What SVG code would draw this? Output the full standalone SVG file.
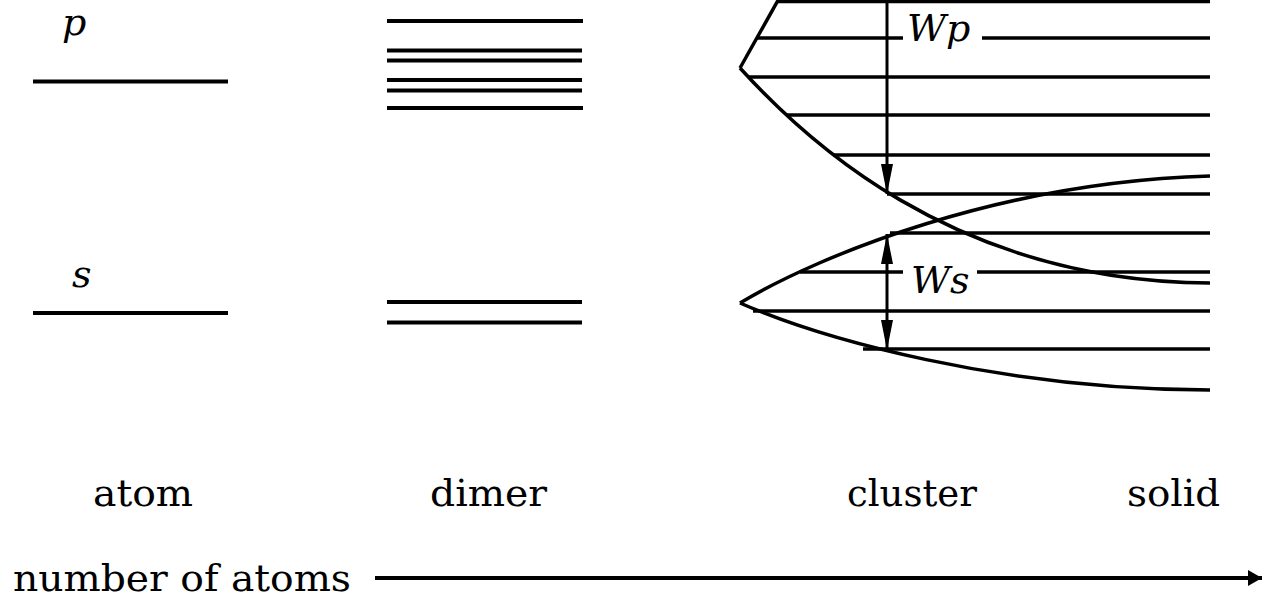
<svg xmlns="http://www.w3.org/2000/svg" width="1265" height="599" viewBox="0 0 1265 599">
<style>
.lv{stroke:#000;stroke-width:4;fill:none}
.cl{stroke:#000;stroke-width:3.5;fill:none}
.cv{stroke:#000;stroke-width:3.5;fill:none}
.lab{font-family:"DejaVu Serif",serif;font-size:37px;fill:#000}
.it{font-family:"DejaVu Serif",serif;font-style:italic;font-size:38px;fill:#000}
.ar{stroke:#000;stroke-width:3;fill:none}
</style>
<defs>
<marker id="head" markerUnits="userSpaceOnUse" markerWidth="30" markerHeight="14" refX="30" refY="7" orient="auto-start-reverse">
<path d="M0,1 L30,7 L0,13 z" fill="#000"/>
</marker>
<marker id="headSmall" markerUnits="userSpaceOnUse" markerWidth="14" markerHeight="16" refX="14" refY="8" orient="auto">
<path d="M0,0 L14,8 L0,16 z" fill="#000"/>
</marker>
</defs>
<rect width="1265" height="599" fill="#fff"/>
<g id="atom">
<text class="it" x="62" y="35">p</text>
<line class="lv" x1="33" y1="81.5" x2="228" y2="81.5"/>
<text class="it" x="72" y="287">s</text>
<line class="lv" x1="33" y1="313" x2="228" y2="313"/>
</g>
<g id="dimer">
<line class="lv" x1="387" y1="21" x2="583" y2="21"/>
<line class="lv" x1="387" y1="50.5" x2="582" y2="50.5"/>
<line class="lv" x1="387" y1="60.5" x2="582" y2="60.5"/>
<line class="lv" x1="387" y1="80" x2="582" y2="80"/>
<line class="lv" x1="387" y1="90.5" x2="582" y2="90.5"/>
<line class="lv" x1="387" y1="108" x2="583" y2="108"/>
<line class="lv" x1="387" y1="302" x2="582" y2="302"/>
<line class="lv" x1="387" y1="322.5" x2="582" y2="322.5"/>
</g>
<g id="cluster">
<path class="cv" d="M781,-5 L740,68"/>
<path class="cv" d="M740,68 C800,134 950,282 1210,283"/>
<path class="cv" d="M740,303 C820,255 1000,182 1210,176"/>
<path class="cv" d="M740,303 C820,338 1000,390 1210,390"/>
<line class="cl" x1="778" y1="1.5" x2="1210" y2="1.5"/>
<line class="cl" x1="757" y1="38" x2="903" y2="38"/>
<line class="cl" x1="982" y1="38" x2="1210" y2="38"/>
<line class="cl" x1="749" y1="77" x2="1210" y2="77"/>
<line class="cl" x1="786" y1="115" x2="1210" y2="115"/>
<line class="cl" x1="833" y1="155" x2="1210" y2="155"/>
<line class="cl" x1="887" y1="194" x2="1210" y2="194"/>
<line class="cl" x1="890" y1="233" x2="1210" y2="233"/>
<line class="cl" x1="800" y1="272" x2="903" y2="272"/>
<line class="cl" x1="977" y1="272" x2="1210" y2="272"/>
<line class="cl" x1="753" y1="311" x2="1210" y2="311"/>
<line class="cl" x1="863" y1="349" x2="1210" y2="349"/>
<text class="it" x="907" y="41" font-size="37">Wp</text>
<text class="it" x="911" y="293" font-size="37">Ws</text>
</g>
<g id="connectors">
<line class="ar" x1="887" y1="0" x2="887" y2="194" marker-end="url(#head)"/>
<line class="ar" x1="887" y1="234" x2="887" y2="350" marker-start="url(#head)" marker-end="url(#head)"/>
<line class="lv" x1="375" y1="578" x2="1262" y2="578" marker-end="url(#headSmall)"/>
</g>
<g id="labels">
<text class="lab" x="93" y="506" textLength="100" lengthAdjust="spacingAndGlyphs">atom</text>
<text class="lab" x="430" y="506" textLength="117" lengthAdjust="spacingAndGlyphs">dimer</text>
<text class="lab" x="847" y="506" textLength="130" lengthAdjust="spacingAndGlyphs">cluster</text>
<text class="lab" x="1127" y="506" textLength="93" lengthAdjust="spacingAndGlyphs">solid</text>
<text class="lab" x="13" y="591" textLength="338" lengthAdjust="spacingAndGlyphs">number of atoms</text>
</g>
</svg>
